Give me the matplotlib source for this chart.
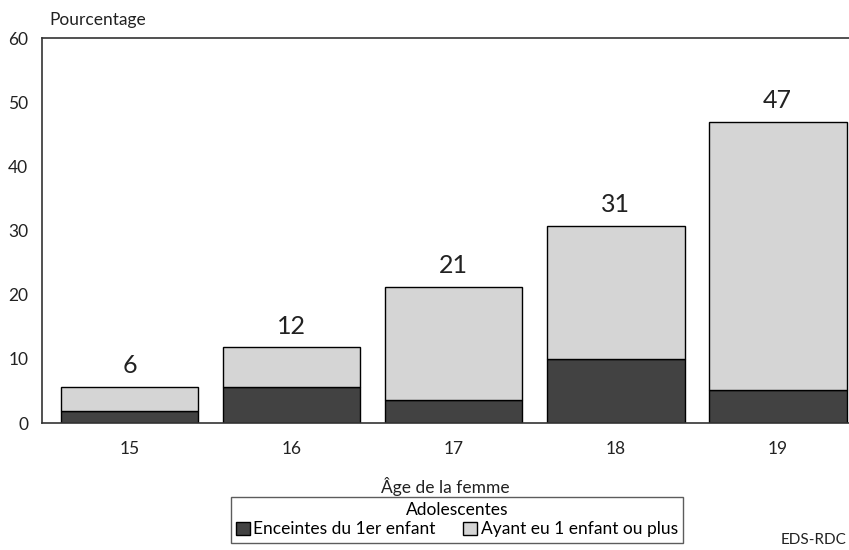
import matplotlib.pyplot as plt
import numpy as np

plt.rcParams['font.family'] = ['Lato', 'DejaVu Sans']

ages = ['15', '16', '17', '18', '19']
enceintes = [1.9, 5.6, 3.6, 10.0, 5.1]
ayant_enfant = [3.7, 6.2, 17.6, 20.7, 41.8]
totaux = [6, 12, 21, 31, 47]

fig = plt.figure(figsize=(8.49, 5.5), dpi=100)
ax = fig.add_axes([0.0495, 0.2309, 0.9505, 0.70])

x = np.arange(len(ages))
b1 = ax.bar(x, enceintes, width=0.85, color='#424242', edgecolor='black', linewidth=1,
            label='Enceintes du 1er enfant')
b2 = ax.bar(x, ayant_enfant, width=0.85, bottom=enceintes, color='#d5d5d5',
            edgecolor='black', linewidth=1, label='Ayant eu 1 enfant ou plus')

# etiquettes au dessus des barres
for xi, e, a, t in zip(x, enceintes, ayant_enfant, totaux):
    ax.annotate(str(t), (xi, e + a), xytext=(0, 7), textcoords='offset points',
                ha='center', va='bottom', fontsize=18, color='#222222')

ax.set_xlim(-0.54, 4.44)
ax.set_ylim(0, 60)
ax.set_yticks(range(0, 61, 10))
ax.set_xticks(x)
ax.set_xticklabels(ages)
ax.tick_params(length=0, labelsize=12.5, colors='#222222')
ax.tick_params(axis='y', pad=10)
ax.tick_params(axis='x', pad=13)
ax.spines['right'].set_visible(False)
for s in ['top', 'left', 'bottom']:
    ax.spines[s].set_color('#333333')
    ax.spines[s].set_linewidth(1.2)

ax.set_xlabel('Âge de la femme', fontsize=12.5, labelpad=14, color='#222222')
fig.text(49 / 849, 1 - 20 / 550, 'Pourcentage', fontsize=12.5, va='center', ha='left',
         color='#222222')

leg = fig.legend(handles=[b1, b2], loc='upper center', bbox_to_anchor=(0.538, 0.097),
                 ncol=2, title='Adolescentes', fontsize=12.5, title_fontsize=12.5,
                 frameon=True, fancybox=False, edgecolor='#333333',
                 handlelength=0.8, handleheight=0.8, handletextpad=0.2,
                 columnspacing=1.6, borderpad=0.3, labelspacing=0.2,
                 borderaxespad=0)
leg.get_frame().set_linewidth(1)

fig.text(846 / 849, 1 - 540 / 550, 'EDS-RDC', fontsize=11, va='center', ha='right',
         color='#222222')

fig.savefig('out.png', dpi=100)
